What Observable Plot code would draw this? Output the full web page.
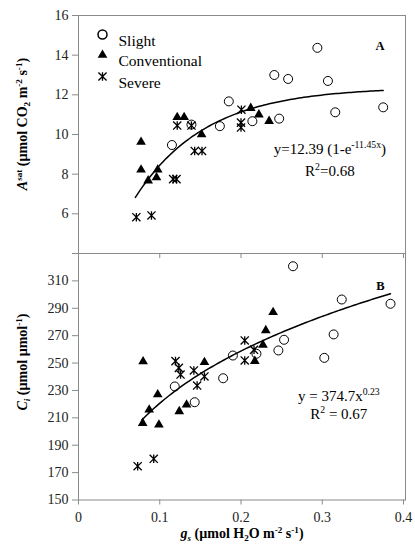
<!DOCTYPE html>
<html>
<head>
<meta charset="utf-8">
<script src="https://cdn.jsdelivr.net/npm/d3@7"></script>
<script src="https://cdn.jsdelivr.net/npm/@observablehq/plot@0.6"></script>
<style>
  html, body { margin: 0; padding: 0; background: #fff; }
  #wrap { position: relative; width: 415px; height: 554px; }
  #wrap svg { position: absolute; left: 0; top: 0; }
</style>
</head>
<body>
<div id="wrap"></div>
<script>
// ---------- data ----------
const seriesNames = ["Slight", "Conventional", "Severe"];

// Panel A : A_sat vs g_s
const slightA_x = [0.294, 0.241, 0.258, 0.307, 0.185, 0.375, 0.316, 0.247, 0.214, 0.174, 0.139, 0.115];
const slightA_y = [14.37, 13.0, 12.8, 12.7, 11.67, 11.37, 11.12, 10.8, 10.67, 10.42, 10.5, 9.47];
const convA_x = [0.1215, 0.130, 0.212, 0.222, 0.2346, 0.1515, 0.077, 0.077, 0.0975, 0.0857, 0.096];
const convA_y = [10.87, 10.87, 11.33, 11.0, 10.67, 10.0, 9.62, 8.22, 8.22, 7.67, 7.83];
const sevA_x = [0.1215, 0.139, 0.2005, 0.2, 0.2, 0.143, 0.152, 0.1165, 0.1206, 0.0712, 0.0898];
const sevA_y = [10.45, 10.45, 11.25, 10.6, 10.35, 9.17, 9.17, 7.75, 7.75, 5.83, 5.92];

// Panel B : C_i vs g_s
const slightB_x = [0.264, 0.324, 0.384, 0.314, 0.253, 0.246, 0.3025, 0.219, 0.190, 0.178, 0.1185, 0.143];
const slightB_y = [320.7, 296.4, 293.3, 270.9, 267, 259.2, 253.8, 256.8, 255.5, 238.9, 232.9, 221.4];
const convB_x = [0.0795, 0.155, 0.2395, 0.2305, 0.227, 0.217, 0.0975, 0.087, 0.079, 0.099, 0.124, 0.133];
const convB_y = [251.1, 250.6, 287.1, 273.8, 263.3, 251.4, 227, 215.9, 206.1, 204.9, 214.7, 219.5];
const sevB_x = [0.2046, 0.216, 0.2046, 0.1194, 0.1235, 0.1256, 0.142, 0.155, 0.146, 0.0728, 0.0926];
const sevB_y = [266.5, 259.7, 251.9, 251.4, 246.5, 241.6, 244.6, 240.2, 233.6, 174.7, 180.1];

// fitted curves as printed on the chart
const fitA = {a: 12.39, k: 11.45, xmin: 0.07, xmax: 0.375};   // y = a(1 - e^(-kx))
const fitB = {a: 374.7, b: 0.23, xmin: 0.078, xmax: 0.384};   // y = a x^b

// axis ticks
const xTicks = [0, 0.1, 0.2, 0.3, 0.4];
const yTicksA = [4, 6, 8, 10, 12, 14, 16];
const yTicksB = [150, 170, 190, 210, 230, 250, 270, 290, 310, 330];

// ---------- helpers ----------
const pts = (xs, ys) => xs.map((x, i) => ({x, y: ys[i]}));
const curveA = d3.range(0, 101).map(i => {
  const x = fitA.xmin + (fitA.xmax - fitA.xmin) * i / 100;
  return {x, y: fitA.a * (1 - Math.exp(-fitA.k * x))};
});
const curveB = d3.range(0, 101).map(i => {
  const x = fitB.xmin + (fitB.xmax - fitB.xmin) * i / 100;
  return {x, y: fitB.a * Math.pow(x, fitB.b)};
});

// Excel-style star marker: an X with a vertical bar
const starSymbol = {
  draw(context, size) {
    const r = Math.sqrt(size / Math.PI);
    const h = r * 0.85;
    context.moveTo(-h, -h); context.lineTo(h, h);
    context.moveTo(-h, h); context.lineTo(h, -h);
    context.moveTo(0, -h * 1.05); context.lineTo(0, h * 1.05);
  }
};

const FONT = "'Liberation Serif', 'Times New Roman', serif";
const FRAME = "#8a8a8a";
const W = 415, H = 554;
const L = 78, R = 10;

function seriesMarks(s, c, v) {
  return [
    Plot.dot(s, {x: "x", y: "y", symbol: "circle", r: 4.5, fill: "none", stroke: "black", strokeWidth: 1}),
    Plot.dot(c, {x: "x", y: "y", symbol: "triangle", r: 3.6, fill: "black", stroke: "none"}),
    Plot.dot(v, {x: "x", y: "y", symbol: starSymbol, r: 4.8, fill: "none", stroke: "black", strokeWidth: 1.3})
  ];
}

function richText(svg, x, y, parts, opts) {
  const size = opts.size;
  const t = d3.select(svg).append("text")
    .attr("x", x).attr("y", y)
    .attr("text-anchor", opts.anchor || "start")
    .attr("font-family", FONT)
    .attr("font-size", size)
    .attr("font-weight", opts.weight || "normal")
    .attr("fill", opts.fill || "#000");
  if (opts.rotate) t.attr("transform", `rotate(${opts.rotate},${x},${y})`);
  let shift = 0;
  for (const [str, kind] of parts) {
    const kinds = (kind || "").split(" ");
    const target = kinds.includes("sup") ? -size * 0.38 : kinds.includes("sub") ? size * 0.22 : 0;
    const ts = t.append("tspan").text(str).attr("dy", target - shift);
    shift = target;
    if (kinds.includes("sup") || kinds.includes("sub")) ts.attr("font-size", size * 0.65);
    if (kinds.includes("i")) ts.attr("font-style", "italic");
  }
  return t;
}

// ---------- Panel A ----------
const topPlot = Plot.plot({
  width: W, height: H,
  marginTop: 15, marginBottom: H - 253, marginLeft: L, marginRight: R,
  style: {background: "transparent", fontFamily: FONT, fontSize: "14px", color: "#222"},
  x: {domain: [0, 0.4], insetRight: 2},
  y: {domain: [4, 16]},
  marks: [
    Plot.frame({stroke: FRAME}),
    Plot.axisY({ticks: yTicksA, tickSize: 6, tickPadding: 4, stroke: FRAME, fill: "#222",
      tickFormat: d => d === 4 ? "" : String(d), label: null}),
    Plot.axisX({ticks: xTicks, tickSize: 5, stroke: FRAME, tickFormat: () => "", label: null}),
    Plot.line(curveA, {x: "x", y: "y", stroke: "black", strokeWidth: 1.5}),
    ...seriesMarks(pts(slightA_x, slightA_y), pts(convA_x, convA_y), pts(sevA_x, sevA_y)),
    // legend
    Plot.dot([seriesNames[0]], {frameAnchor: "top-left", dx: 24, dy: 19, symbol: "circle", r: 4.5, fill: "none", stroke: "black"}),
    Plot.dot([seriesNames[1]], {frameAnchor: "top-left", dx: 24, dy: 39.5, symbol: "triangle", r: 3.6, fill: "black", stroke: "none"}),
    Plot.dot([seriesNames[2]], {frameAnchor: "top-left", dx: 24, dy: 61, symbol: starSymbol, r: 4.8, fill: "none", stroke: "black", strokeWidth: 1.3}),
    Plot.text([seriesNames[0]], {frameAnchor: "top-left", dx: 40, dy: 19, text: d => d, textAnchor: "start", fontSize: 15.5, fill: "black"}),
    Plot.text([seriesNames[1]], {frameAnchor: "top-left", dx: 40, dy: 39.5, text: d => d, textAnchor: "start", fontSize: 15.5, fill: "black"}),
    Plot.text([seriesNames[2]], {frameAnchor: "top-left", dx: 40, dy: 61, text: d => d, textAnchor: "start", fontSize: 15.5, fill: "black"}),
    Plot.text(["A"], {frameAnchor: "top-right", dx: -21, dy: 26, text: d => d, fontWeight: "bold", fontSize: 12.5, fill: "black"})
  ]
});

// ---------- Panel B ----------
const botPlot = Plot.plot({
  width: W, height: H,
  marginTop: 253, marginBottom: H - 499.5, marginLeft: L, marginRight: R,
  style: {background: "transparent", fontFamily: FONT, fontSize: "14px", color: "#222"},
  x: {domain: [0, 0.4], insetRight: 2},
  y: {domain: [150, 330]},
  marks: [
    Plot.frame({stroke: FRAME}),
    Plot.axisY({ticks: yTicksB, tickSize: 6, tickPadding: 4, stroke: FRAME, fill: "#222",
      tickFormat: d => d === 330 ? "" : String(d), label: null}),
    Plot.axisX({ticks: xTicks, tickSize: 5, tickPadding: 7, stroke: FRAME, fill: "#222",
      tickFormat: d => d === 0 ? "0" : d3.format(".1f")(d), label: null}),
    Plot.line(curveB, {x: "x", y: "y", stroke: "black", strokeWidth: 1.5}),
    ...seriesMarks(pts(slightB_x, slightB_y), pts(convB_x, convB_y), pts(sevB_x, sevB_y)),
    Plot.text(["B"], {frameAnchor: "top-right", dx: -21, dy: 28, text: d => d, fontWeight: "bold", fontSize: 12.5, fill: "black"})
  ]
});

const wrap = document.getElementById("wrap");
wrap.appendChild(botPlot);
wrap.appendChild(topPlot);

// ---------- rich-text annotations ----------
const sxA = topPlot.scale("x"), syA = topPlot.scale("y");
const syB = botPlot.scale("y");

richText(topPlot, sxA.apply(0.31), syA.apply(9.0), [["y=12.39 (1-e"], ["-11.45x", "sup"], [")"]], {size: 15, anchor: "middle"});
richText(topPlot, sxA.apply(0.31), syA.apply(7.9), [["R"], ["2", "sup"], ["=0.68"]], {size: 15, anchor: "middle"});

richText(botPlot, sxA.apply(0.321), syB.apply(222), [["y = 374.7x"], ["0.23", "sup"]], {size: 15, anchor: "middle"});
richText(botPlot, sxA.apply(0.321), syB.apply(209), [["R"], ["2", "sup"], [" = 0.67"]], {size: 15, anchor: "middle"});

// axis titles
richText(topPlot, 27, 124, [["A", "i"], ["sat", "sup"], [" (µmol CO"], ["2", "sub"], [" m"], ["-2", "sup"], [" s"], ["-1", "sup"], [")"]],
  {size: 14, weight: "bold", anchor: "middle", rotate: -90});
richText(botPlot, 27, 362, [["C", "i"], ["i", "sub i"], [" (µmol µmol"], ["-1", "sup"], [")"]],
  {size: 14, weight: "bold", anchor: "middle", rotate: -90});
richText(botPlot, 242, 538, [["g", "i"], ["s", "sub i"], [" (µmol H"], ["2", "sub"], ["O m"], ["-2", "sup"], [" s"], ["-1", "sup"], [")"]],
  {size: 14, weight: "bold", anchor: "middle"});
</script>
</body>
</html>
